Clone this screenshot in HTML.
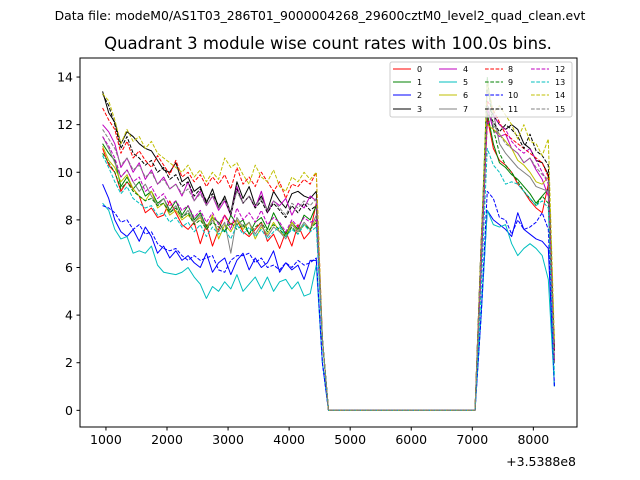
<!DOCTYPE html>
<html><head><meta charset="utf-8"><style>
body{margin:0;background:#fff}
svg{display:block;font-family:"DejaVu Sans","Liberation Sans",sans-serif}
</style></head><body>
<svg id="c" width="640" height="480" viewBox="0 0 640 480">
<text x="320" y="20" font-size="12.4" text-anchor="middle">Data file: modeM0/AS1T03_286T01_9000004268_29600cztM0_level2_quad_clean.evt</text>
<text x="328" y="49" font-size="16.5" text-anchor="middle">Quadrant 3 module wise count rates with 100.0s bins.</text>
<g id="plot"></g>
<rect x="80" y="58" width="497" height="369" fill="none" stroke="#000" stroke-width="1"/>
<g id="axes"></g>
<text x="576" y="466" font-size="12.5" text-anchor="end">+3.5388e8</text>
<g id="legend"></g>
</svg>
<script>
const t0 = 945, step = 100;
const xTicks = [1000,2000,3000,4000,5000,6000,7000,8000];
const yTicks = [0,2,4,6,8,10,12,14];
const seg1 = [
[11.0,10.3,10.0,9.2,9.6,9.3,9.0,8.3,8.5,8.1,8.2,8.8,8.3,7.8,7.6,7.9,7.0,7.8,6.9,7.6,8.2,7.8,8.0,7.5,7.3,7.6,7.9,7.1,7.4,6.8,7.5,6.9,7.8,7.2,7.5,8.7],
[11.2,10.8,10.5,9.4,9.8,9.3,9.6,9.0,9.2,8.7,8.9,8.4,8.8,8.2,8.6,8.0,8.3,7.7,8.1,7.9,7.5,8.2,7.8,8.0,7.4,7.9,8.1,7.6,8.3,7.8,7.4,7.9,7.6,8.2,8.0,8.6],
[9.5,8.9,8.0,7.5,7.3,7.6,7.1,7.7,7.3,6.6,6.9,6.4,6.7,6.3,6.5,6.2,6.0,6.6,5.8,6.2,6.4,5.7,6.3,6.6,5.9,6.4,6.0,6.2,6.7,5.8,6.2,5.9,6.1,5.5,6.3,6.3],
[13.4,12.5,12.1,11.2,11.7,11.5,11.2,11.0,10.9,10.5,10.1,10.0,10.4,9.6,9.8,9.2,9.4,8.7,9.3,8.5,9.0,8.3,9.6,8.9,9.4,8.6,9.0,8.4,9.2,8.8,8.5,9.1,9.2,9.0,8.9,9.2],
[12.0,11.7,11.2,10.2,10.6,10.0,10.4,9.7,10.1,9.5,9.8,9.3,9.5,9.0,9.6,8.8,9.2,8.6,9.0,8.4,8.8,8.2,9.4,8.7,9.0,8.5,9.2,8.3,8.8,8.6,8.9,8.2,8.7,8.5,9.0,8.8],
[8.7,8.4,7.6,7.2,7.3,6.6,6.7,6.6,6.9,6.1,5.8,5.75,5.7,5.8,6.0,5.6,5.3,4.7,5.2,5.0,5.4,5.1,5.7,5.0,5.3,5.6,5.1,5.6,5.0,5.4,5.5,5.1,5.4,4.8,4.9,6.1],
[11.1,10.5,10.2,9.6,9.9,9.3,9.0,8.8,9.2,8.5,8.7,8.2,8.4,8.0,8.2,7.9,8.1,7.6,8.2,7.2,7.8,7.5,8.0,7.6,7.9,7.2,7.7,7.4,7.9,7.5,7.3,7.9,7.5,7.8,7.6,8.0],
[11.5,11.0,10.4,9.8,10.1,9.6,9.2,9.5,9.0,8.6,8.9,8.3,8.6,8.1,8.4,7.9,8.2,7.6,8.0,7.5,7.9,6.6,8.1,7.7,7.9,7.4,7.8,7.3,7.7,7.5,7.2,7.8,7.5,7.9,7.6,8.2],
[12.7,12.2,11.8,10.8,11.3,10.6,10.9,10.5,10.2,10.7,10.3,9.9,10.5,9.8,10.0,9.6,9.9,9.4,9.8,9.5,9.9,9.3,10.2,9.5,9.8,9.4,10.0,9.6,9.2,9.6,8.9,9.5,9.4,9.7,9.5,10.0],
[10.8,10.4,10.0,9.3,9.6,9.2,9.0,8.8,8.9,8.6,8.7,8.3,8.5,8.1,8.3,7.8,8.0,7.6,7.9,7.7,7.5,7.9,7.6,7.8,7.4,7.7,7.9,7.5,7.8,7.6,7.3,7.7,7.4,7.8,7.6,7.9],
[8.6,8.5,8.3,7.9,8.0,7.6,7.8,7.4,7.5,7.0,6.8,6.7,6.8,6.5,6.3,6.5,6.3,6.4,6.5,5.9,5.8,6.3,6.5,6.5,6.6,6.2,6.4,6.0,6.1,5.9,6.2,6.0,6.3,6.1,6.2,6.4],
[13.3,12.8,12.0,11.0,11.5,10.8,10.6,10.3,10.5,10.0,10.2,9.7,9.9,9.4,9.6,9.0,9.3,8.8,9.1,8.6,8.9,8.2,9.3,8.7,9.0,8.5,8.8,8.3,8.7,8.4,8.1,8.6,8.3,8.7,8.4,8.6],
[11.5,11.1,10.6,9.8,10.1,9.6,9.8,9.2,9.4,8.9,9.1,8.6,8.8,8.4,8.6,8.1,8.4,7.9,8.3,7.8,8.2,7.6,8.5,8.0,8.3,7.9,8.4,7.8,8.1,7.9,7.5,8.0,7.7,8.1,7.9,8.0],
[10.7,10.2,9.6,9.1,9.4,8.9,8.7,8.5,8.6,8.2,8.3,7.9,8.1,7.7,7.9,7.5,7.8,7.3,7.7,7.4,7.6,7.2,7.8,7.4,7.7,7.3,7.6,7.2,7.5,7.7,7.3,7.6,7.4,7.8,7.5,7.7],
[13.3,13.0,12.2,11.2,11.8,11.3,11.5,11.0,11.3,10.8,10.6,10.4,10.2,10.0,10.3,9.8,10.1,9.6,10.0,9.7,10.6,10.2,10.4,9.9,9.5,10.3,9.8,9.6,10.1,9.4,9.2,9.8,9.6,10.0,9.7,10.0],
[11.8,11.4,11.0,10.3,10.6,10.1,10.3,9.8,10.0,9.5,9.7,9.3,9.5,9.1,9.3,8.8,9.1,8.6,9.0,8.5,8.9,8.3,9.2,8.7,9.0,8.6,8.9,8.4,8.8,8.5,8.2,8.7,8.5,8.8,8.6,8.9]
];
const dropVals = [3,3,2,3,3,2,3,3,3,3,2,3,3,3,3,3];
const gapZeros = [0,0,0,0,0,0,0,0,0,0,0,0,0,0,0,0,0,0,0,0,0,0,0,0,0];
const riseVals = [6,6,4,7,6,4,7,7,6.5,6.5,4,7,6.5,5,7,6.5];
const seg2 = [
[12.3,11.0,10.5,10.3,10.0,9.5,9.2,8.8,8.5,8.3,9.5],
[12.5,11.2,10.4,10.2,9.9,9.7,9.4,9.1,8.7,9.0,9.3],
[8.4,8.0,7.8,7.6,7.3,8.3,7.6,7.4,7.2,7.1,6.8],
[12.8,12.4,12.0,11.8,12.0,11.8,11.2,11.0,10.5,10.4,9.9],
[12.7,11.8,11.5,11.6,11.0,10.8,10.4,10.6,10.1,9.7,9.0],
[8.4,7.8,7.7,7.8,7.0,6.5,6.8,7.0,6.8,6.5,5.5],
[12.0,11.8,11.6,11.3,11.0,10.5,10.3,10.0,9.6,9.5,9.8],
[13.5,12.5,11.2,10.8,10.5,10.2,10.0,9.8,9.4,9.3,9.2],
[13.0,12.6,12.1,11.6,11.4,11.2,11.0,10.8,10.6,10.4,9.8],
[14.0,11.8,10.8,10.3,10.0,9.6,9.2,8.9,8.6,9.0,8.7],
[9.2,8.9,8.1,8.0,7.4,8.0,7.6,7.7,7.9,8.3,7.6],
[12.5,12.1,11.7,12.0,11.8,11.5,11.0,11.6,10.9,10.7,10.3],
[12.0,12.4,12.0,11.8,11.3,11.0,10.8,11.0,10.5,10.0,9.5],
[11.0,10.3,10.0,9.5,9.6,9.5,9.2,8.9,8.6,8.8,8.5],
[13.8,12.5,12.8,12.4,12.0,11.4,12.0,11.3,11.2,10.7,11.4],
[12.8,12.0,11.6,11.2,11.0,10.8,10.4,10.6,10.2,9.9,9.7]
];
const finalVals = [2,2,1,2.5,2,1,2.5,2.5,2.5,2,1,2.5,2,1.5,3,2];
const labels = ['0','1','2','3','4','5','6','7','8','9','10','11','12','13','14','15'];
const colors = ['#ff0000','#008000','#0000ff','#000000','#bf00bf','#00bfbf','#bfbf00','#808080'];

const NS='http://www.w3.org/2000/svg';
const xmin=575,xmax=8715,ymin=-0.7,ymax=14.8;
const X=v=>80+(v-xmin)/(xmax-xmin)*497;
const Y=v=>427-(v-ymin)/(ymax-ymin)*369;
function mk(tag,attrs,parent){const e=document.createElementNS(NS,tag);for(const k in attrs)e.setAttribute(k,attrs[k]);parent.appendChild(e);return e;}
const axes=document.getElementById('axes'),plot=document.getElementById('plot'),leg=document.getElementById('legend');
xTicks.forEach(v=>{
  const l=mk('line',{x1:X(v),x2:X(v),y1:427,y2:430.5,stroke:'#000'},axes);
  
  
  const t=mk('text',{x:X(v),y:444,'font-size':12.5,'text-anchor':'middle'},axes);t.textContent=v;
  
  
});
yTicks.forEach(v=>{
  const l=mk('line',{x1:76.5,x2:80,y1:Y(v),y2:Y(v),stroke:'#000'},axes);
  
  
  const t=mk('text',{x:73,y:Y(v)+4.5,'font-size':12.5,'text-anchor':'end'},axes);t.textContent=v;
  
  
});
for(let s=0;s<16;s++){
  const vals=[].concat(seg1[s],[dropVals[s]],gapZeros,[riseVals[s]],seg2[s],[finalVals[s]]);
  const pts=vals.map((v,i)=>X(t0+i*step).toFixed(2)+','+Y(v).toFixed(2)).join(' ');
  const a={points:pts,fill:'none',stroke:colors[s%8],'stroke-width':1,'stroke-linejoin':'round'};
  if(s>=8)a['stroke-dasharray']='3.7,1.6';
  const p=mk('polyline',a,plot);
  
  
}
mk('rect',{x:390,y:62,width:182,height:55,rx:2,fill:'#fff','fill-opacity':0.8,stroke:'#ccc'},leg);
const colLine=[393,439,485,531],colText=[417,463,508,555],rowY=[69,82,95,109];
for(let s=0;s<16;s++){
  const c=Math.floor(s/4),r=s%4;
  const a={x1:colLine[c],x2:colLine[c]+18,y1:rowY[r],y2:rowY[r],stroke:colors[s%8],'stroke-width':1};
  if(s>=8)a['stroke-dasharray']='3.7,1.6';
  const l=mk('line',a,leg);
  
  
  const t=mk('text',{x:colText[c],y:rowY[r]+3,'font-size':8},leg);t.textContent=labels[s];
  
  
}
</script>
</body></html>
